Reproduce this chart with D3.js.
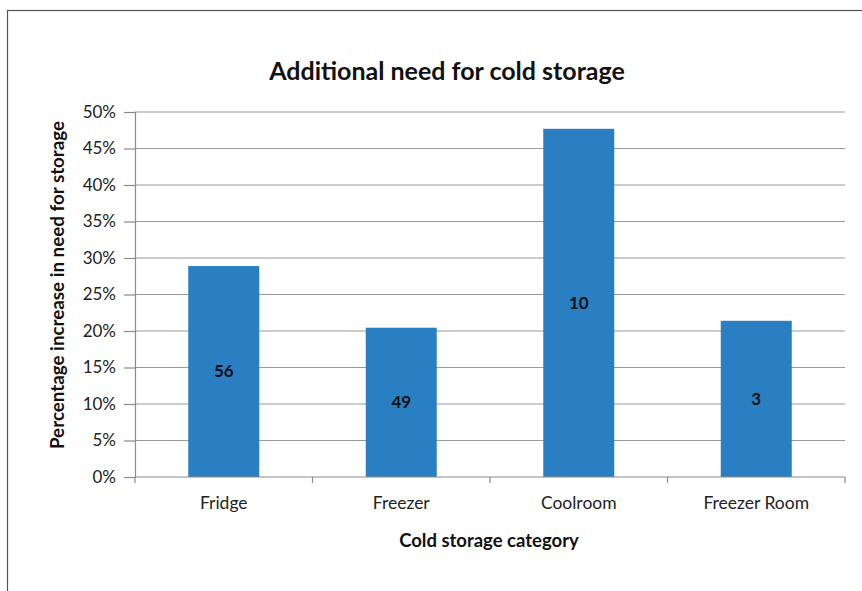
<!DOCTYPE html>
<html>
<head>
<meta charset="utf-8">
<script src="https://cdn.jsdelivr.net/npm/d3@7"></script>
<style>
  html, body { margin: 0; padding: 0; background: #fff; }
  svg { display: block; }
  text { font-family: Lato, "Open Sans", sans-serif; }
</style>
</head>
<body>
<svg id="chart" width="862" height="591"></svg>
<script>
// Cold storage categories and the share of extra storage each one needs
const categories = ["Fridge", "Freezer", "Coolroom", "Freezer Room"];
const increase = [0.289, 0.2045, 0.477, 0.214];
const counts = ["56", "49", "10", "3"];
const yTicks = [0, 0.05, 0.10, 0.15, 0.20, 0.25, 0.30, 0.35, 0.40, 0.45, 0.50];

const svg = d3.select("#chart");

// outer frame
svg.append("rect")
  .attr("x", 7.5).attr("y", 10.5)
  .attr("width", 900).attr("height", 700)
  .attr("fill", "none").attr("stroke", "#555").attr("stroke-width", 1.2);

const plotLeft = 135, plotRight = 845, plotTop = 112, plotBottom = 477;

const x = d3.scaleBand().domain(categories).range([plotLeft, plotRight]).paddingInner(0.6).paddingOuter(0.3);
const y = d3.scaleLinear().domain([0, 0.5]).range([plotBottom, plotTop]);

// horizontal gridlines
svg.append("g")
  .selectAll("line").data(yTicks.slice(1)).join("line")
  .attr("x1", plotLeft).attr("x2", plotRight)
  .attr("y1", d => y(d)).attr("y2", d => y(d))
  .attr("stroke", "#9a9a9a").attr("stroke-width", 1.2);

// y axis
const yAxis = svg.append("g").attr("transform", `translate(${plotLeft},0)`)
  .call(d3.axisLeft(y).tickValues(yTicks).tickFormat(d3.format(".0%")).tickSize(11).tickPadding(8));
yAxis.select(".domain").attr("stroke", "#8a8a8a").attr("stroke-width", 1.2);
yAxis.selectAll(".tick line").attr("stroke", "#8a8a8a").attr("stroke-width", 1.2);
yAxis.selectAll(".tick text").attr("font-size", 17).attr("fill", "#222")
  .style("font-family", "Lato, 'Open Sans', sans-serif");

// bars
svg.append("g").selectAll("rect").data(categories).join("rect")
  .attr("x", d => x(d))
  .attr("width", x.bandwidth())
  .attr("y", (d, i) => y(increase[i]))
  .attr("height", (d, i) => y(0) - y(increase[i]))
  .attr("fill", "#2a7fc2");

// count labels inside bars
svg.append("g").selectAll("text").data(categories).join("text")
  .attr("x", d => x(d) + x.bandwidth() / 2)
  .attr("y", (d, i) => (y(increase[i]) + y(0)) / 2)
  .attr("dy", "0.35em")
  .attr("text-anchor", "middle")
  .attr("font-size", 17).attr("font-weight", "bold").attr("fill", "#111")
  .text((d, i) => counts[i]);

// x axis with boundary ticks between categories
svg.append("line")
  .attr("x1", plotLeft).attr("x2", plotRight).attr("y1", plotBottom).attr("y2", plotBottom)
  .attr("stroke", "#8a8a8a").attr("stroke-width", 1.2);
svg.append("g").selectAll("line").data(d3.range(categories.length + 1)).join("line")
  .attr("x1", i => plotLeft + i * (plotRight - plotLeft) / categories.length)
  .attr("x2", i => plotLeft + i * (plotRight - plotLeft) / categories.length)
  .attr("y1", plotBottom).attr("y2", plotBottom + 6)
  .attr("stroke", "#8a8a8a").attr("stroke-width", 1.2);

svg.append("g").selectAll("text").data(categories).join("text")
  .attr("x", d => x(d) + x.bandwidth() / 2)
  .attr("y", 509)
  .attr("text-anchor", "middle")
  .attr("font-size", 17.5).attr("fill", "#222")
  .text(d => d);

// titles
svg.append("text")
  .attr("x", 447).attr("y", 80)
  .attr("text-anchor", "middle")
  .attr("font-size", 25).attr("font-weight", "bold").attr("fill", "#111")
  .text("Additional need for cold storage");

svg.append("text")
  .attr("x", 489).attr("y", 547)
  .attr("text-anchor", "middle")
  .attr("font-size", 18.5).attr("font-weight", "bold").attr("fill", "#111")
  .text("Cold storage category");

svg.append("text")
  .attr("transform", "translate(64,285) rotate(-90)")
  .attr("text-anchor", "middle")
  .attr("font-size", 18.8).attr("font-weight", "bold").attr("fill", "#111")
  .text("Percentage increase in need for storage");
</script>
</body>
</html>
